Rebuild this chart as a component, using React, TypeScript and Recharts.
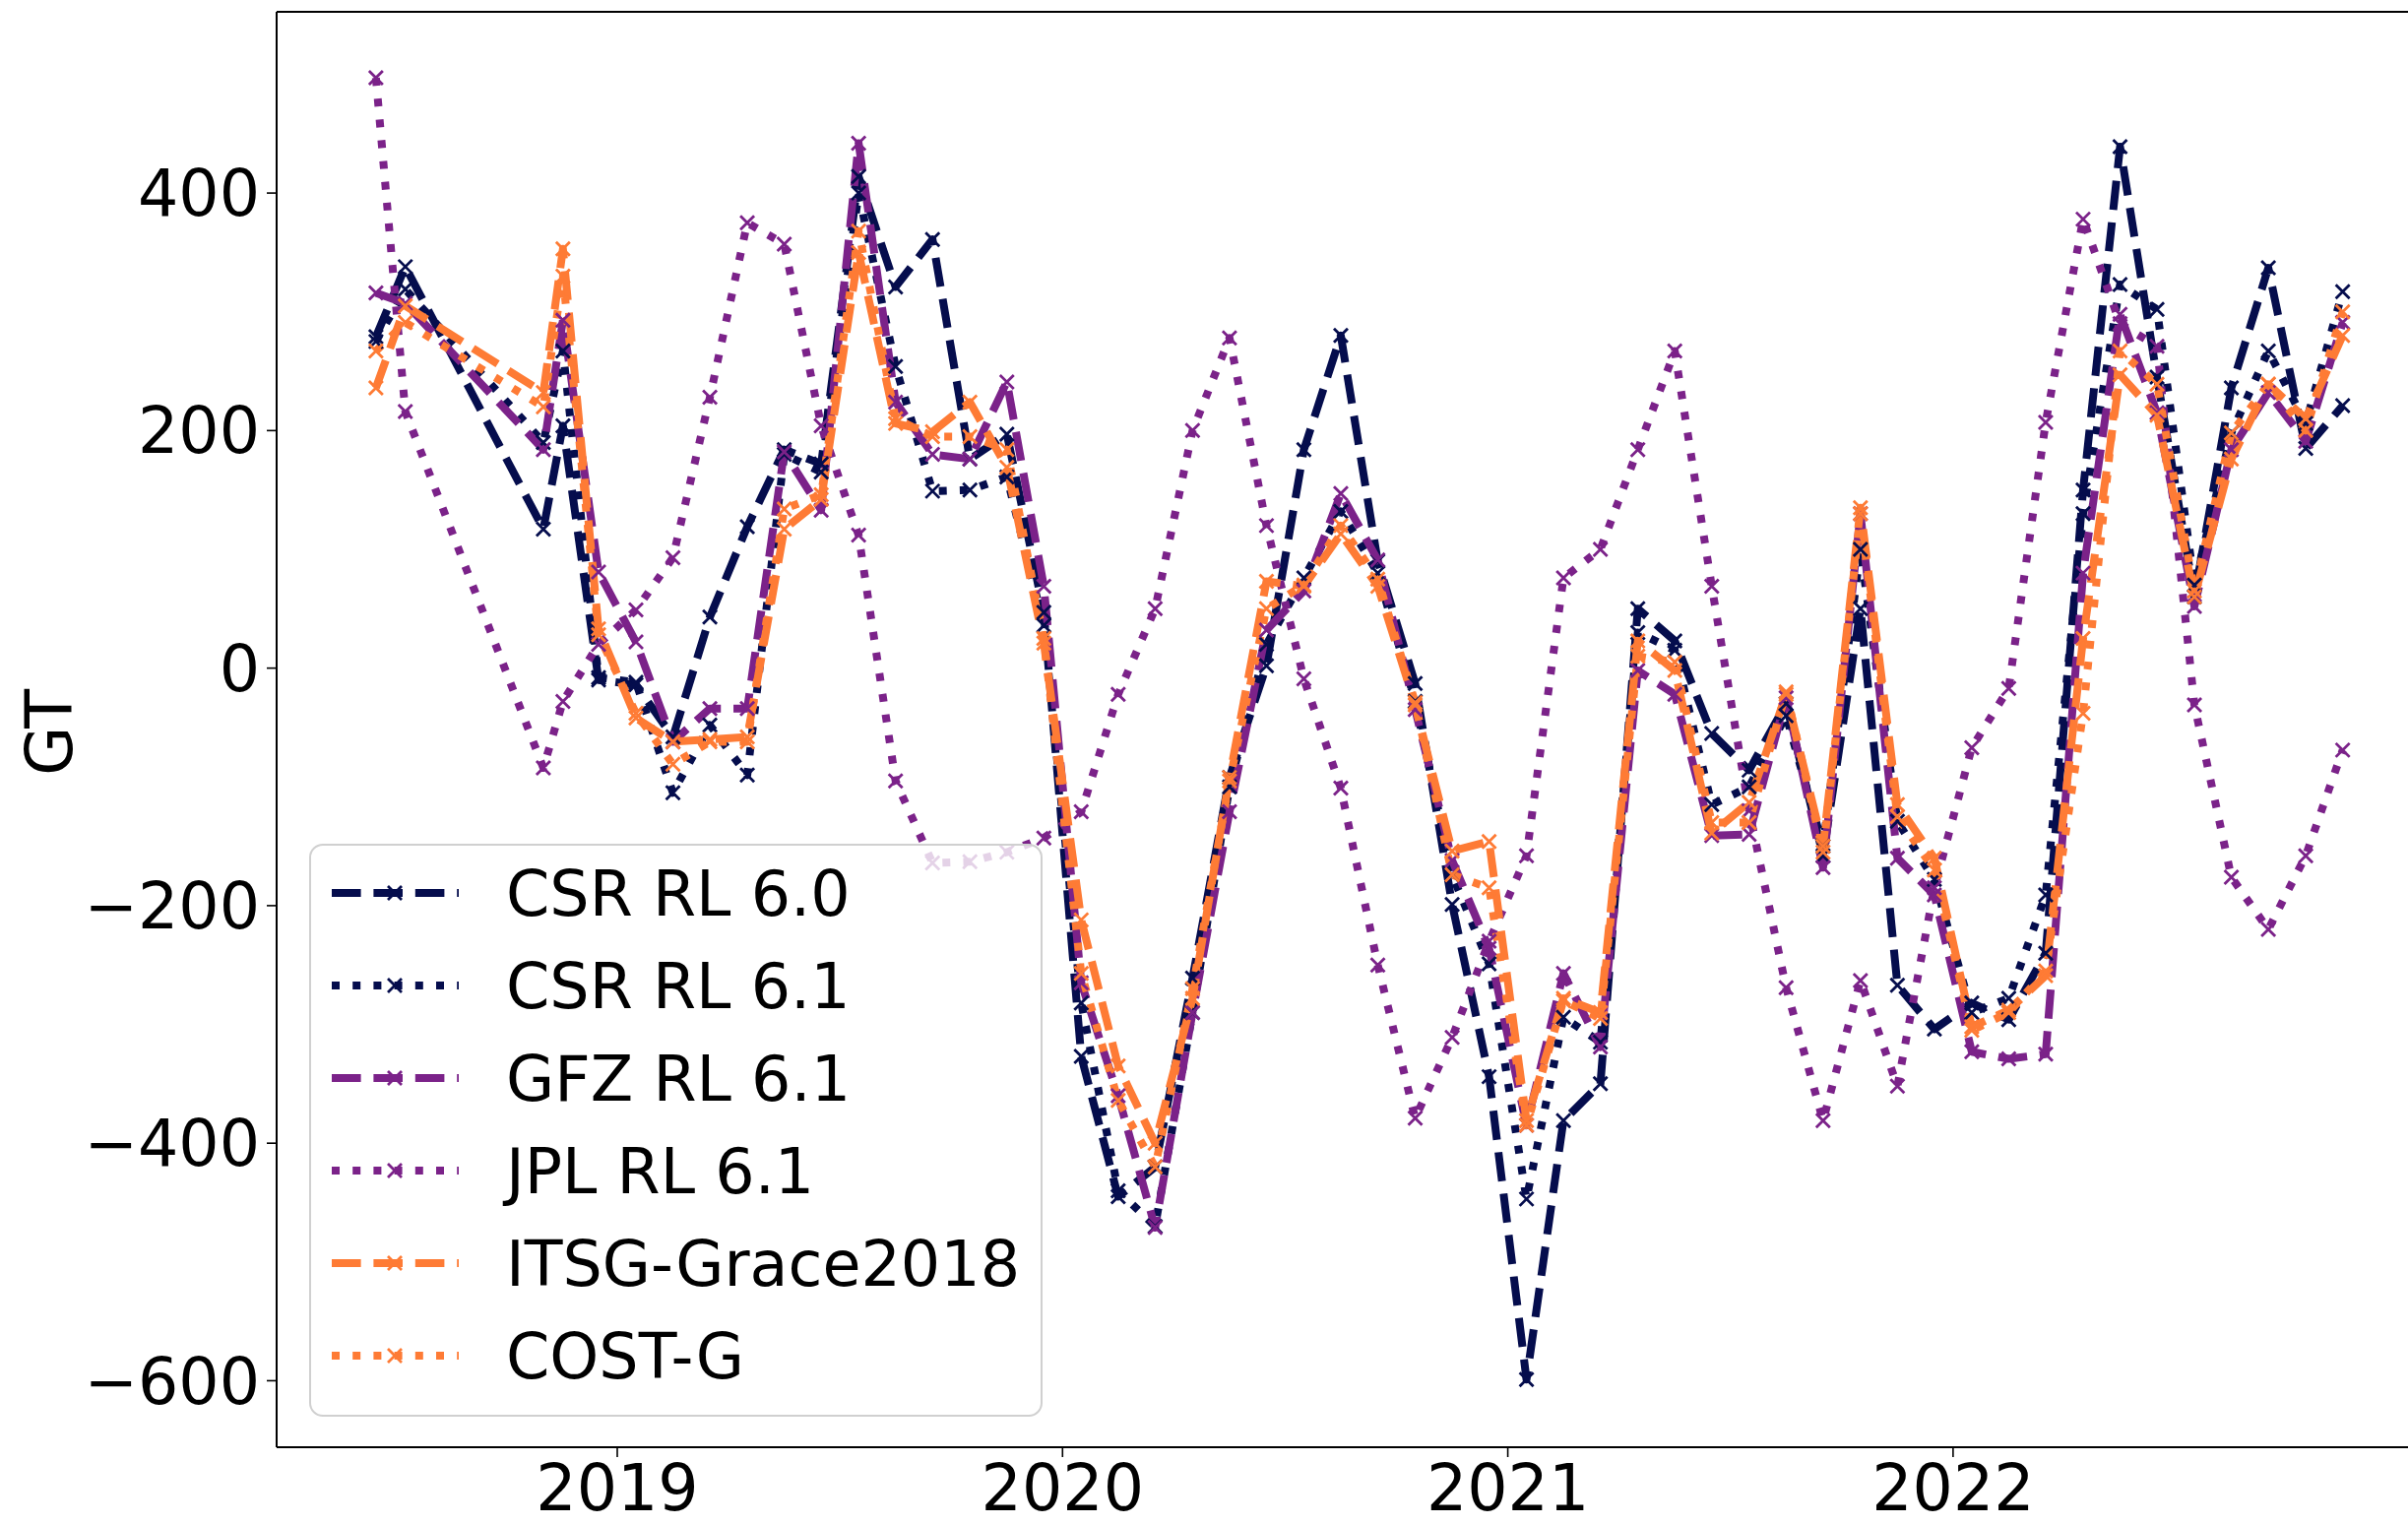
import React from 'react';
import { LineChart, Line, XAxis, YAxis, Legend, ReferenceLine } from 'recharts';

// ---- data ----
const MONTHS = [
  'Jun18', 'Jul18', 'Oct18', 'Nov18', 'Dec18',
  'Jan19', 'Feb19', 'Mar19', 'Apr19', 'May19', 'Jun19', 'Jul19', 'Aug19', 'Sep19', 'Oct19', 'Nov19', 'Dec19',
  'Jan20', 'Feb20', 'Mar20', 'Apr20', 'May20', 'Jun20', 'Jul20', 'Aug20', 'Sep20', 'Oct20', 'Nov20', 'Dec20',
  'Jan21', 'Feb21', 'Mar21', 'Apr21', 'May21', 'Jun21', 'Jul21', 'Aug21', 'Sep21', 'Oct21', 'Nov21', 'Dec21',
  'Jan22', 'Feb22', 'Mar22', 'Apr22', 'May22', 'Jun22', 'Jul22', 'Aug22', 'Sep22', 'Oct22', 'Nov22',
];

const TIMES = [
  2018.458, 2018.524, 2018.834, 2018.878, 2018.958,
  2019.042, 2019.125, 2019.208, 2019.292, 2019.375, 2019.458, 2019.542, 2019.625, 2019.708, 2019.792, 2019.875, 2019.958,
  2020.042, 2020.125, 2020.208, 2020.292, 2020.375, 2020.458, 2020.542, 2020.625, 2020.708, 2020.792, 2020.875, 2020.958,
  2021.042, 2021.125, 2021.208, 2021.292, 2021.375, 2021.458, 2021.542, 2021.625, 2021.708, 2021.792, 2021.875, 2021.958,
  2022.042, 2022.125, 2022.208, 2022.292, 2022.375, 2022.458, 2022.542, 2022.625, 2022.708, 2022.792, 2022.875,
];

const CSR_RL60 = [
  279, 338, 117, 204, -10,
  -14, -58, 43, 119, 184, 172, 414, 321, 361, 176, 197, 47,
  -327, -445, -420, -261, -92, 2, 184, 280, 90, -13, -199, -344,
  -599, -381, -350, 50, 23, -55, -86, -30, -158, 50, -267, -304,
  -282, -296, -240, 150, 439, 245, 60, 236, 337, 185, 221,
];

const CSR_RL61 = [
  275, 319, 190, 267, -8,
  -12, -105, -48, -90, 180, 165, 400, 254, 149, 150, 161, 36,
  -282, -440, -470, -290, -100, 20, 76, 132, 80, -28, -174, -249,
  -447, -294, -315, 30, 15, -115, -100, -40, -150, 100, -129, -178,
  -290, -278, -191, 130, 323, 302, 70, 198, 267, 206, 317,
];

const GFZ_RL61 = [
  316, 307, 184, 293, 81,
  22, -62, -34, -34, 182, 133, 442, 224, 180, 176, 241, 69,
  -265, -360, -471, -290, -121, 32, 65, 147, 91, -35, -162, -236,
  -385, -257, -319, -2, -22, -141, -140, -25, -168, 130, -160, -191,
  -323, -329, -325, 80, 298, 215, 52, 184, 232, 191, 291,
];

const JPL_RL61 = [
  497, 216, -84, -28, 20,
  49, 93, 228, 375, 357, 204, 112, -95, -164, -163, -155, -143,
  -121, -22, 50, 200, 278, 120, -9, -101, -250, -379, -311, -230,
  -158, 76, 100, 184, 267, 69, -120, -269, -381, -263, -352, -185,
  -67, -17, 207, 378, 290, 271, -31, -176, -220, -158, -69,
];

const ITSG_GRACE2018 = [
  236, 305, 232, 353, 33,
  -42, -62, -60, -58, 117, 142, 350, 206, 199, 224, 169, 21,
  -212, -335, -400, -278, -92, 73, 69, 113, 69, -31, -154, -146,
  -381, -278, -290, 23, -2, -139, -113, -22, -150, 135, -115, -160,
  -302, -288, -259, 25, 247, 213, 60, 176, 239, 210, 280,
];

const COST_G = [
  267, 291, 220, 330, 28,
  -38, -81, -62, -62, 134, 146, 368, 210, 195, 195, 184, 25,
  -257, -364, -420, -270, -95, 50, 70, 120, 75, -29, -174, -185,
  -385, -280, -295, 10, 5, -130, -130, -20, -155, 130, -125, -170,
  -305, -290, -255, -38, 267, 239, 65, 198, 239, 200, 300,
];

const X_TICKS = [2019, 2020, 2021, 2022];
const Y_TICKS = [-600, -400, -200, 0, 200, 400];
const SERIES_NAMES = ['CSR RL 6.0', 'CSR RL 6.1', 'GFZ RL 6.1', 'JPL RL 6.1', 'ITSG-Grace2018', 'COST-G'];

// ---- styles ----
const FONT = "'DejaVu Sans', 'Liberation Sans', sans-serif";
const NAVY = '#050d4d';
const PURPLE = '#7b2289';
const ORANGE = '#fe7b35';
const DASHED = '29.6 12.8';
const DOTTED = '8 13.2';
const LW = 8;

const SERIES = [
  { key: 'csr60', name: SERIES_NAMES[0], values: CSR_RL60, color: NAVY, dash: DASHED },
  { key: 'csr61', name: SERIES_NAMES[1], values: CSR_RL61, color: NAVY, dash: DOTTED },
  { key: 'gfz', name: SERIES_NAMES[2], values: GFZ_RL61, color: PURPLE, dash: DASHED },
  { key: 'jpl', name: SERIES_NAMES[3], values: JPL_RL61, color: PURPLE, dash: DOTTED },
  { key: 'itsg', name: SERIES_NAMES[4], values: ITSG_GRACE2018, color: ORANGE, dash: DASHED },
  { key: 'costg', name: SERIES_NAMES[5], values: COST_G, color: ORANGE, dash: DOTTED },
];

const DATA = TIMES.map((t, i) => {
  const row: Record<string, number | string> = { t, month: MONTHS[i] };
  SERIES.forEach((s) => {
    row[s.key] = s.values[i];
  });
  return row;
});

// axis calibration (pixel layout)
const X_DOMAIN: [number, number] = [2018.235, 2023.0217];
const Y_DOMAIN: [number, number] = [-656, 552.6];

const MS = 7; // marker half size

const xPath = (cx: number, cy: number) =>
  `M${cx - MS},${cy - MS}L${cx + MS},${cy + MS}M${cx - MS},${cy + MS}L${cx + MS},${cy - MS}`;

const makeMarker = (color: string, key: string) => (props: any) => {
  const { cx, cy, index } = props;
  if (cx == null || cy == null || isNaN(cx) || isNaN(cy)) return <g key={`${key}-${index}`} />;
  return (
    <path
      key={`${key}-${index}`}
      d={xPath(cx, cy)}
      stroke={color}
      strokeWidth={2.8}
      fill="none"
      strokeLinecap="butt"
    />
  );
};

const yFmt = (v: number) => (v < 0 ? `\u2212${Math.abs(v)}` : `${v}`);

const YLabel = () => (
  <text
    transform="translate(72.7,744) rotate(-90)"
    textAnchor="middle"
    fontSize={65}
    fontFamily={FONT}
    fill="#000"
  >
    GT
  </text>
);

const LEGEND_FONT = 63.5;

const LegendBox = () => (
  <svg width={745} height={582} style={{ display: 'block', overflow: 'visible' }}>
    <rect
      x={1}
      y={1}
      width={743}
      height={580}
      rx={13}
      ry={13}
      fill="#ffffff"
      fillOpacity={0.8}
      stroke="#d0d0d0"
      strokeWidth={2}
    />
    {SERIES.map((s, i) => {
      const cy = 50 + i * 94;
      return (
        <g key={s.key}>
          <line
            x1={23}
            x2={152}
            y1={cy}
            y2={cy}
            stroke={s.color}
            strokeWidth={LW}
            strokeDasharray={s.dash}
          />
          <path d={xPath(87, cy)} stroke={s.color} strokeWidth={2.8} fill="none" />
          <text x={200} y={cy + 23.2} fontSize={LEGEND_FONT} fontFamily={FONT} fill="#000">
            {s.name}
          </text>
        </g>
      );
    })}
  </svg>
);

const tickStyle = { fontSize: 65, fill: '#000', fontFamily: FONT };

export default function App() {
  return (
    <div style={{ position: 'absolute', left: 0, top: 0, width: 2446, height: 1549, background: '#fff' }}>
      <LineChart
        width={2446}
        height={1549}
        data={DATA}
        margin={{ top: 12, right: 0, left: 0, bottom: 0 }}
        style={{ fontFamily: FONT }}
      >
        <XAxis
          dataKey="t"
          type="number"
          domain={X_DOMAIN}
          allowDataOverflow
          ticks={X_TICKS}
          interval={0}
          height={79}
          tickSize={10}
          tickMargin={8}
          tick={tickStyle}
          axisLine={{ stroke: '#000', strokeWidth: 2 }}
          tickLine={{ stroke: '#000', strokeWidth: 1.6 }}
        />
        <YAxis
          type="number"
          domain={Y_DOMAIN}
          allowDataOverflow
          ticks={Y_TICKS}
          interval={0}
          width={281}
          tickSize={10}
          tickMargin={7}
          tick={tickStyle}
          tickFormatter={yFmt}
          axisLine={{ stroke: '#000', strokeWidth: 2 }}
          tickLine={{ stroke: '#000', strokeWidth: 1.6 }}
          label={<YLabel />}
        />
        <ReferenceLine y={Y_DOMAIN[1]} stroke="#000" strokeWidth={2} ifOverflow="visible" />
        {SERIES.map((s) => (
          <Line
            key={s.key}
            type="linear"
            dataKey={s.key}
            name={s.name}
            stroke={s.color}
            strokeWidth={LW}
            strokeDasharray={s.dash}
            strokeLinejoin="round"
            dot={makeMarker(s.color, s.key)}
            activeDot={false}
            isAnimationActive={false}
          />
        ))}
        <Legend
          layout="horizontal"
          verticalAlign="middle"
          align="center"
          content={() => <LegendBox />}
          wrapperStyle={{ left: 314, top: 857, width: 745, height: 582 }}
        />
      </LineChart>
    </div>
  );
}
